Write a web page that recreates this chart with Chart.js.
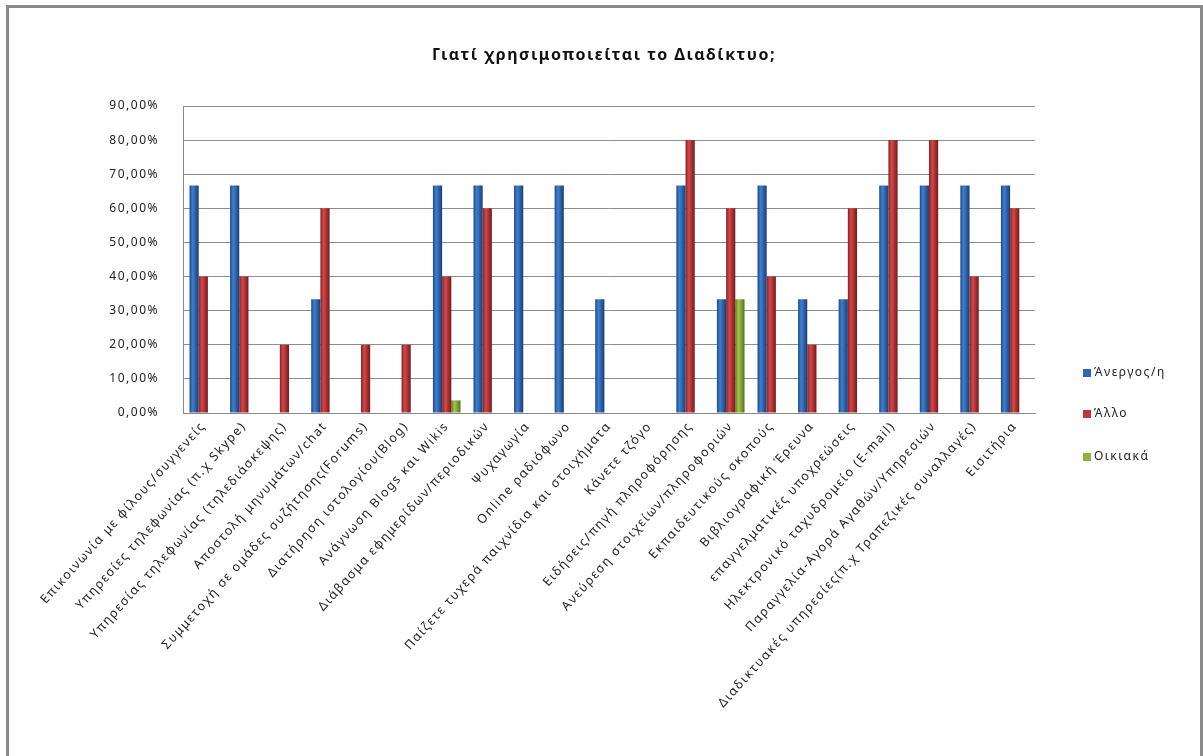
<!DOCTYPE html>
<html>
<head>
<meta charset="utf-8">
<script src="https://cdn.jsdelivr.net/npm/chart.js@4"></script>
<style>
  html, body { margin: 0; padding: 0; background: #fff; overflow: hidden; }
  #frame { position: absolute; left: 6px; top: 5px; width: 1191px; height: 800px; border: 3px solid #8a8a8a; border-bottom: none; }
  #wrap { position: absolute; left: 0; top: 0; width: 1203px; height: 756px; }
</style>
</head>
<body>
<div id="frame"></div>
<div id="wrap"><canvas id="chart"></canvas></div>
<script>
// categories (x axis)
const categories = [
    'Επικοινωνία με φίλους/συγγενείς',
    'Υπηρεσίες τηλεφωνίας (π.χ Skype)',
    'Υπηρεσίας τηλεφωνίας (τηλεδιάσκεψης)',
    'Αποστολή μηνυμάτων/chat',
    'Συμμετοχή σε ομάδες συζήτησης(Forums)',
    'Διατήρηση ιστολογίου(Blog)',
    'Ανάγνωση Blogs και Wikis',
    'Διάβασμα εφημερίδων/περιοδικών',
    'Ψυχαγωγία',
    'Online ραδιόφωνο',
    'Παίζετε τυχερά παιχνίδια και στοιχήματα',
    'Κάνετε τζόγο',
    'Ειδήσεις/πηγή πληροφόρησης',
    'Ανεύρεση στοιχείων/πληροφοριών',
    'Εκπαιδευτικούς σκοπούς',
    'Βιβλιογραφική Έρευνα',
    'επαγγελματικές υποχρεώσεις',
    'Ηλεκτρονικό ταχυδρομείο (E-mail)',
    'Παραγγελία-Αγορά Αγαθών/Υπηρεσιών',
    'Διαδικτυακές υπηρεσίες(π.χ Τραπεζικές συναλλαγές)',
    'Εισιτήρια'
];

// series values, in percent
const anergos = [66.67, 66.67, null, 33.33, null, null, 66.67, 66.67, 66.67, 66.67, 33.33, null, 66.67, 33.33, 66.67, 33.33, 33.33, 66.67, 66.67, 66.67, 66.67];
const allo    = [40, 40, 20, 60, 20, 20, 40, 60, null, null, null, null, 80, 60, 40, 20, 60, 80, 80, 40, 60];
const oikiaka = [null, null, null, null, null, null, 3.7, null, null, null, null, null, null, 33.33, null, null, null, null, null, null, null];

const seriesNames = ['Άνεργος/η', 'Άλλο', 'Οικιακά'];
const chartTitle = 'Γιατί χρησιμοποιείται το Διαδίκτυο;';

// y axis ticks
const yMax = 90;
const yStep = 10;

const FONT = '"Noto Sans", "DejaVu Sans", sans-serif';
const SPACING = '1.5px'; // the spreadsheet text is set quite loose

// horizontal shading so the bars look like the Excel ones
function barFill(stops, solid) {
    return function (ctx) {
        const el = ctx.element;
        if (!el || el.x === undefined || isNaN(el.x) || !el.width) return solid;
        const half = el.width / 2;
        const g = ctx.chart.ctx.createLinearGradient(el.x - half, 0, el.x + half, 0);
        g.addColorStop(0, stops[0]);
        g.addColorStop(0.35, stops[1]);
        g.addColorStop(1, stops[2]);
        return g;
    };
}

const colors = [
    { solid: '#2f66b3', stops: ['#1d4a8a', '#3f7fd0', '#1a3e72'] },
    { solid: '#c0373a', stops: ['#8c1f1f', '#d2494a', '#7a1818'] },
    { solid: '#8cb33a', stops: ['#5f7e22', '#9fc64a', '#56731e'] }
];

// letter spacing has to be set again after every canvas resize
const looseText = {
    id: 'looseText',
    beforeLayout(chart) { chart.ctx.letterSpacing = SPACING; },
    beforeDraw(chart) { chart.ctx.letterSpacing = SPACING; }
};

// title over the plot and legend at the right, like in the spreadsheet
const sideLegend = {
    id: 'sideLegend',
    afterDraw(chart) {
        const c = chart.ctx;
        c.save();
        c.textBaseline = 'middle';
        c.textAlign = 'center';
        c.fillStyle = '#111';
        c.font = 'bold 16px ' + FONT;
        c.fillText(chartTitle, 604, 55);

        const rows = [373, 414, 457];
        c.textAlign = 'left';
        c.font = '12px ' + FONT;
        chart.data.datasets.forEach((ds, i) => {
            c.fillStyle = colors[i].solid;
            c.fillRect(1083, rows[i] - 4, 8, 8);
            c.fillStyle = '#222';
            c.fillText(ds.label, 1094, rows[i]);
        });
        c.restore();
    }
};

const chart = new Chart(document.getElementById('chart'), {
    type: 'bar',
    data: {
        labels: categories,
        datasets: [anergos, allo, oikiaka].map((d, i) => ({
            label: seriesNames[i],
            data: d,
            backgroundColor: barFill(colors[i].stops, colors[i].solid),
            borderWidth: 0,
            categoryPercentage: 0.68,
            barPercentage: 1.0
        }))
    },
    options: {
        responsive: true,
        maintainAspectRatio: false,
        animation: false,
        layout: { padding: { left: 0, right: 168, top: 106, bottom: 0 } },
        plugins: {
            legend: { display: false },
            tooltip: { enabled: false },
            title: { display: false }
        },
        scales: {
            x: {
                grid: { display: false, drawTicks: false },
                border: { display: true, color: '#8a8a8a' },
                ticks: {
                    autoSkip: false,
                    maxRotation: 48,
                    minRotation: 48,
                    padding: 6,
                    color: '#222',
                    font: { family: FONT, size: 12.5 }
                },
                afterFit: s => { s.height = 343; }
            },
            y: {
                min: 0,
                max: yMax,
                grid: { color: '#8e8e8e', lineWidth: 1, drawTicks: false },
                border: { display: true, color: '#8a8a8a' },
                ticks: {
                    stepSize: yStep,
                    padding: 24,
                    color: '#222',
                    font: { family: FONT, size: 12 },
                    callback: v => v.toFixed(2).replace('.', ',') + '%'
                },
                afterFit: s => { s.width = 183; }
            }
        }
    },
    plugins: [looseText, sideLegend]
});
// second pass so the bar shading knows where each bar is
chart.update();
</script>
</body>
</html>
